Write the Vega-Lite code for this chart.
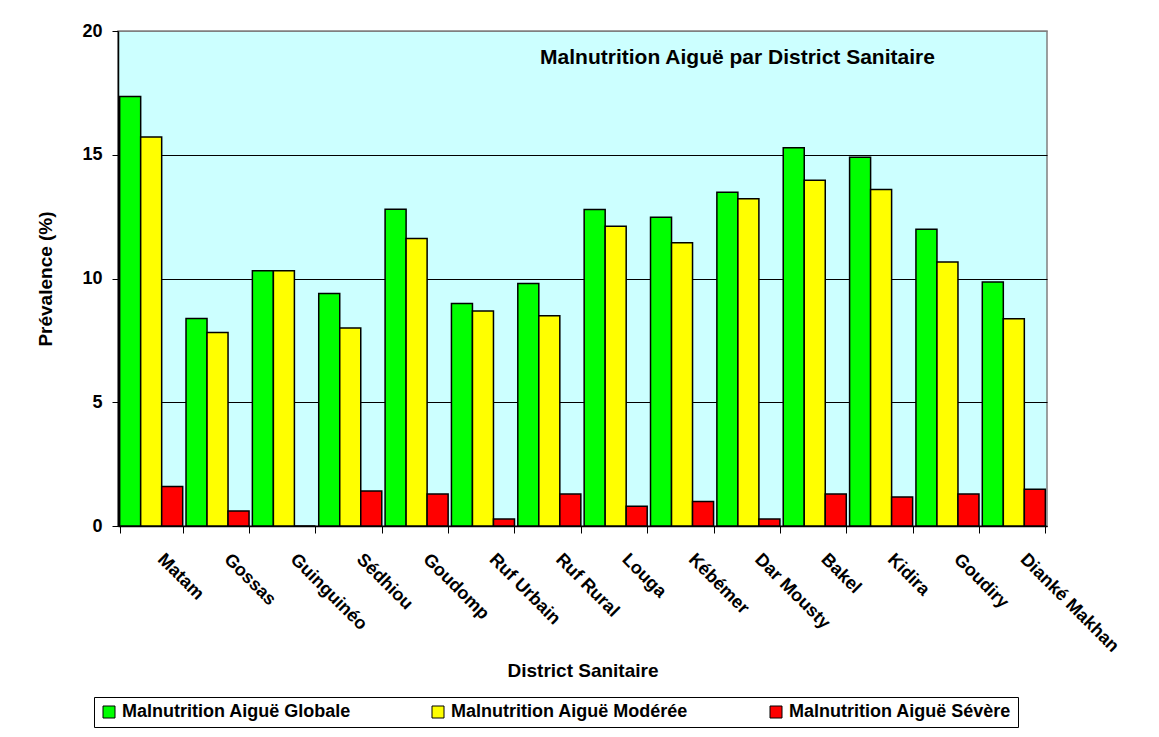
{
  "$schema": "https://vega.github.io/schema/vega-lite/v6.json",
  "autosize": {"type": "none"},
  "width": 929,
  "height": 495,
  "padding": {"left": 118, "top": 31, "right": 112, "bottom": 211},
  "background": "white",
  "title": {
    "text": "Malnutrition Aiguë par District Sanitaire",
    "frame": "group",
    "anchor": "middle",
    "dx": 155,
    "offset": -46,
    "fontSize": 21,
    "font": "Liberation Sans",
    "fontWeight": "bold",
    "color": "black"
  },
  "data": {
    "values": [
      {"district": "Matam", "series": "Malnutrition Aiguë Globale", "value": 17.35},
      {"district": "Matam", "series": "Malnutrition Aiguë Modérée", "value": 15.72},
      {"district": "Matam", "series": "Malnutrition Aiguë Sévère", "value": 1.6},
      {"district": "Gossas", "series": "Malnutrition Aiguë Globale", "value": 8.38},
      {"district": "Gossas", "series": "Malnutrition Aiguë Modérée", "value": 7.82},
      {"district": "Gossas", "series": "Malnutrition Aiguë Sévère", "value": 0.61},
      {"district": "Guinguinéo", "series": "Malnutrition Aiguë Globale", "value": 10.31},
      {"district": "Guinguinéo", "series": "Malnutrition Aiguë Modérée", "value": 10.31},
      {"district": "Guinguinéo", "series": "Malnutrition Aiguë Sévère", "value": 0},
      {"district": "Sédhiou", "series": "Malnutrition Aiguë Globale", "value": 9.39},
      {"district": "Sédhiou", "series": "Malnutrition Aiguë Modérée", "value": 8.0},
      {"district": "Sédhiou", "series": "Malnutrition Aiguë Sévère", "value": 1.41},
      {"district": "Goudomp", "series": "Malnutrition Aiguë Globale", "value": 12.8},
      {"district": "Goudomp", "series": "Malnutrition Aiguë Modérée", "value": 11.62},
      {"district": "Goudomp", "series": "Malnutrition Aiguë Sévère", "value": 1.29},
      {"district": "Ruf Urbain", "series": "Malnutrition Aiguë Globale", "value": 8.99},
      {"district": "Ruf Urbain", "series": "Malnutrition Aiguë Modérée", "value": 8.69},
      {"district": "Ruf Urbain", "series": "Malnutrition Aiguë Sévère", "value": 0.28},
      {"district": "Ruf Rural", "series": "Malnutrition Aiguë Globale", "value": 9.8},
      {"district": "Ruf Rural", "series": "Malnutrition Aiguë Modérée", "value": 8.49},
      {"district": "Ruf Rural", "series": "Malnutrition Aiguë Sévère", "value": 1.29},
      {"district": "Louga", "series": "Malnutrition Aiguë Globale", "value": 12.79},
      {"district": "Louga", "series": "Malnutrition Aiguë Modérée", "value": 12.11},
      {"district": "Louga", "series": "Malnutrition Aiguë Sévère", "value": 0.8},
      {"district": "Kébémer", "series": "Malnutrition Aiguë Globale", "value": 12.47},
      {"district": "Kébémer", "series": "Malnutrition Aiguë Modérée", "value": 11.44},
      {"district": "Kébémer", "series": "Malnutrition Aiguë Sévère", "value": 0.99},
      {"district": "Dar Mousty", "series": "Malnutrition Aiguë Globale", "value": 13.48},
      {"district": "Dar Mousty", "series": "Malnutrition Aiguë Modérée", "value": 13.22},
      {"district": "Dar Mousty", "series": "Malnutrition Aiguë Sévère", "value": 0.28},
      {"district": "Bakel", "series": "Malnutrition Aiguë Globale", "value": 15.28},
      {"district": "Bakel", "series": "Malnutrition Aiguë Modérée", "value": 13.97},
      {"district": "Bakel", "series": "Malnutrition Aiguë Sévère", "value": 1.29},
      {"district": "Kidira", "series": "Malnutrition Aiguë Globale", "value": 14.9},
      {"district": "Kidira", "series": "Malnutrition Aiguë Modérée", "value": 13.6},
      {"district": "Kidira", "series": "Malnutrition Aiguë Sévère", "value": 1.17},
      {"district": "Goudiry", "series": "Malnutrition Aiguë Globale", "value": 11.99},
      {"district": "Goudiry", "series": "Malnutrition Aiguë Modérée", "value": 10.67},
      {"district": "Goudiry", "series": "Malnutrition Aiguë Sévère", "value": 1.29},
      {"district": "Dianké Makhan", "series": "Malnutrition Aiguë Globale", "value": 9.86},
      {"district": "Dianké Makhan", "series": "Malnutrition Aiguë Modérée", "value": 8.37},
      {"district": "Dianké Makhan", "series": "Malnutrition Aiguë Sévère", "value": 1.48}
    ]
  },
  "mark": {"type": "bar", "stroke": "black", "strokeWidth": 1.5},
  "encoding": {
    "x": {
      "field": "district",
      "type": "nominal",
      "sort": ["Matam", "Gossas", "Guinguinéo", "Sédhiou", "Goudomp", "Ruf Urbain", "Ruf Rural", "Louga", "Kébémer", "Dar Mousty", "Bakel", "Kidira", "Goudiry", "Dianké Makhan"],
      "scale": {"paddingInner": 0.05, "paddingOuter": 0.025},
      "axis": {
        "title": "District Sanitaire",
        "labelAngle": 45,
        "labelAlign": "left",
        "labelBaseline": "top",
        "labelOffset": 15,
        "labelPadding": 17,
        "labelOverlap": false,
        "labelLimit": 0,
        "tickBand": "extent",
        "tickSize": 7,
        "tickColor": "black",
        "domainColor": "black",
        "domainWidth": 1.5,
        "labelFontSize": 18,
        "labelFont": "Liberation Sans",
        "labelFontWeight": "bold",
        "labelColor": "black",
        "titleFontSize": 19,
        "titleFont": "Liberation Sans",
        "titleFontWeight": "bold",
        "titleColor": "black",
        "titleY": 144,
        "titleBaseline": "middle"
      }
    },
    "xOffset": {
      "field": "series",
      "type": "nominal",
      "sort": ["Malnutrition Aiguë Globale", "Malnutrition Aiguë Modérée", "Malnutrition Aiguë Sévère"],
      "scale": {"paddingInner": 0, "paddingOuter": 0}
    },
    "y": {
      "field": "value",
      "type": "quantitative",
      "scale": {"domain": [0, 20], "nice": false},
      "axis": {
        "title": "Prévalence (%)",
        "values": [0, 5, 10, 15, 20],
        "grid": true,
        "gridColor": {"condition": {"test": "datum.value === 20", "value": "#808080"}, "value": "black"},
        "gridWidth": 1,
        "domainColor": "black",
        "domainWidth": 1.5,
        "tickColor": "black",
        "tickSize": 6,
        "labelPadding": 10,
        "labelFontSize": 18,
        "labelFont": "Liberation Sans",
        "labelFontWeight": "bold",
        "labelColor": "black",
        "titleFontSize": 19,
        "titleFont": "Liberation Sans",
        "titleFontWeight": "bold",
        "titleColor": "black",
        "titlePadding": 26
      }
    },
    "color": {
      "field": "series",
      "type": "nominal",
      "sort": ["Malnutrition Aiguë Globale", "Malnutrition Aiguë Modérée", "Malnutrition Aiguë Sévère"],
      "scale": {
        "domain": ["Malnutrition Aiguë Globale", "Malnutrition Aiguë Modérée", "Malnutrition Aiguë Sévère"],
        "range": ["#00FF00", "#FFFF00", "#FF0000"]
      },
      "legend": {
        "title": null,
        "orient": "none",
        "legendX": -24,
        "legendY": 666,
        "direction": "horizontal",
        "strokeColor": "black",
        "fillColor": "white",
        "padding": 6,
        "symbolType": "square",
        "symbolSize": 144,
        "symbolStrokeColor": "black",
        "symbolStrokeWidth": 1,
        "symbolOpacity": 1,
        "labelFontSize": 18,
        "labelFont": "Liberation Sans",
        "labelFontWeight": "bold",
        "labelColor": "black",
        "labelOffset": 4,
        "labelLimit": 400,
        "columnPadding": 78
      }
    }
  },
  "config": {
    "view": {"fill": "#CCFFFF", "stroke": "#808080", "strokeWidth": 1.5}
  }
}
